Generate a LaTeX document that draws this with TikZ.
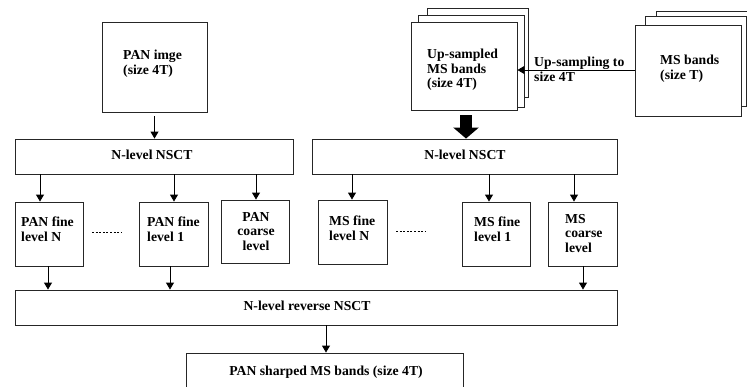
\documentclass[tikz,border=0pt]{standalone}
\usepackage{fontspec}
\setmainfont{Liberation Serif}
\usetikzlibrary{arrows.meta,calc}
\begin{document}
\begin{tikzpicture}[x=1pt,y=-1pt,
  box/.style={draw=black!85, line width=0.9pt, fill=white, inner sep=0pt},
  txt/.style={font=\fontsize{13.7}{14.6}\selectfont\bfseries, inner sep=0pt, align=left},
  arr/.style={draw=black, line width=0.9pt, -{Triangle[length=7pt,width=8pt]}},
  dots/.style={line width=0.8pt, dash pattern=on 2pt off 1.6pt}]
\useasboundingbox (0,0) rectangle (747,386);
\clip (0,0) rectangle (747,386);

% top row
\node[box, minimum width=105pt, minimum height=90pt] (pan) at (154.5,67) {};
\node[txt, anchor=north west] (pantxt) at (123,50) {PAN imge\\(size 4T)};

\draw[box] (427,8) rectangle (528,97);
\draw[box] (418,15) rectangle (524,107);
\node[box, minimum width=106pt, minimum height=88pt] (up) at (464,66) {};
\node[txt, anchor=north west] (uptxt) at (427,49) {Up-sampled\\MS bands\\(size 4T)};

\draw[box] (656,11) rectangle (756,98);
\draw[box] (645,16) rectangle (746,106);
\node[box, minimum width=106pt, minimum height=91pt] (ms) at (688,70.5) {};
\node[txt, anchor=north west] (mstxt) at (660,55) {MS bands\\(size T)};

\draw[arr] (ms.west |- 0,70) -- (up.east |- 0,70);
\node[txt, anchor=north west] (uplbl) at (534,57) {Up-sampling to\\size 4T};

% NSCT
\node[box, minimum width=278pt, minimum height=35pt] (nsctL) at (154,156.5) {};
\node[txt] (nsctLt) at (152,155) {N-level NSCT};
\node[box, minimum width=305pt, minimum height=35pt] (nsctR) at (464.5,156.5) {};
\node[txt] (nsctRt) at (465,155) {N-level NSCT};

\draw[arr] (pan.south |- 0,116) -- (nsctL.north -| pan.south);
\draw[line width=12pt, shorten <=5pt, -{Triangle[length=11pt,width=25pt]}] ([xshift=2pt]up.south) -- ([xshift=2pt]up.south |- nsctR.north);

% level boxes
\node[box, minimum width=68pt, minimum height=64pt] (pfn) at (49,234) {};
\node[txt, anchor=north west] (pfnt) at (21,217) {PAN fine\\level N};
\node[box, minimum width=69pt, minimum height=64pt] (pf1) at (173.5,234) {};
\node[txt, anchor=north west] (pf1t) at (147,217) {PAN fine\\level 1};
\node[box, minimum width=68pt, minimum height=63pt] (pc) at (255,231.5) {};
\node[txt, anchor=north, align=center] (pct) at (256,212) {PAN\\coarse\\level};

\node[box, minimum width=69pt, minimum height=64pt] (mfn) at (352.5,232) {};
\node[txt, anchor=north west] (mfnt) at (329,216) {MS fine\\level N};
\node[box, minimum width=68pt, minimum height=64pt] (mf1) at (496,234) {};
\node[txt, anchor=north west] (mf1t) at (474,217) {MS fine\\level 1};
\node[box, minimum width=69pt, minimum height=64pt] (mc) at (582.5,234) {};
\node[txt, anchor=north west] (mct) at (565,214) {MS\\coarse\\level};

\draw[dots] (92,232) -- (122,232);
\draw[dots] (396,231) -- (425,231);

\draw[arr] (nsctL.south -| 40,0) -- (pfn.north -| 40,0);
\draw[arr] (nsctL.south -| 174,0) -- (pf1.north -| 174,0);
\draw[arr] (nsctL.south -| 256,0) -- (pc.north -| 256,0);
\draw[arr] (nsctR.south -| 352,0) -- (mfn.north -| 352,0);
\draw[arr] (nsctR.south -| 489,0) -- (mf1.north -| 489,0);
\draw[arr] (nsctR.south -| 574,0) -- (mc.north -| 574,0);

% reverse
\node[box, minimum width=602pt, minimum height=35pt] (rev) at (316,307.5) {};
\node[txt] (revt) at (307,306) {N-level reverse NSCT};

\draw[arr] (pfn.south -| 48,0) -- (rev.north -| 48,0);
\draw[arr] (pf1.south -| 170,0) -- (rev.north -| 170,0);
\draw[arr] (mc.south -| 583,0) -- (rev.north -| 583,0);

% output
\node[box, minimum width=277pt, minimum height=38pt] (out) at (324.5,372) {};
\node[txt] (outt) at (326,372) {PAN sharped MS bands (size 4T)};
\draw[arr] (rev.south -| 326,0) -- (out.north -| 326,0);
\end{tikzpicture}
\end{document}
